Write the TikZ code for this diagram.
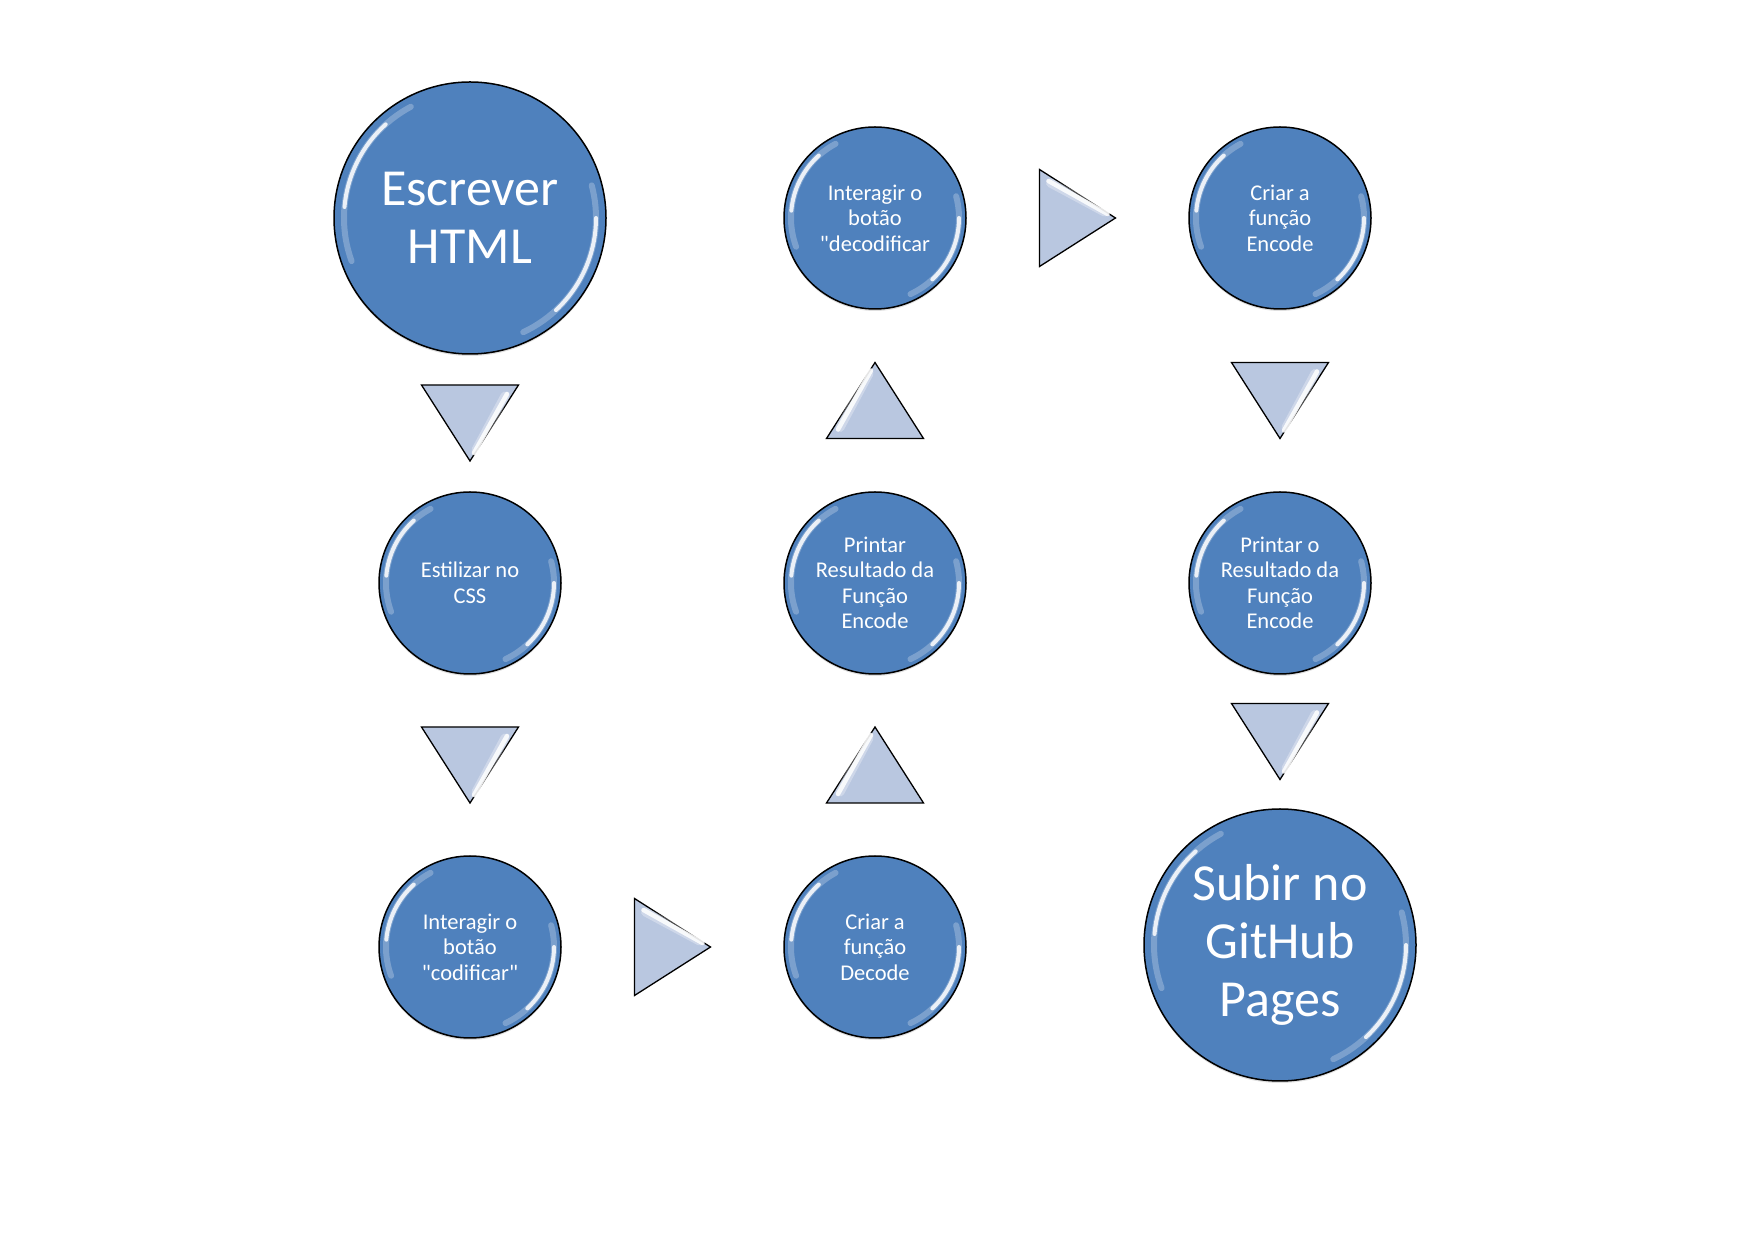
\documentclass[tikz,border=0pt]{standalone}
\usepackage{fontspec}
\setmainfont{Carlito}[Ligatures=TeXOff]
\usetikzlibrary{calc,shadows}

\definecolor{bubblefill}{RGB}{79,129,189}
\definecolor{trifill}{RGB}{185,199,224}

\tikzset{
  bubble/.style={circle, draw=black, line width=1.5pt, fill=bubblefill, text=white,
    align=center, inner sep=0pt, minimum size=182pt, font=\fontsize{22.5}{25.5}\selectfont,
    drop shadow={shadow xshift=0pt, shadow yshift=-2pt, opacity=0.25}},
  bigbubble/.style={bubble, minimum size=272pt, font=\fontsize{52}{58}\selectfont},
  glossline/.style={white, line width=4pt, line cap=round, opacity=0.85},
  glossfaint/.style={white, line width=6pt, line cap=round, opacity=0.25},
  tribody/.style={draw=black, line width=1.3pt, fill=trifill, line join=miter},
  trishine/.style={white, line width=4.5pt, line cap=round, opacity=0.85},
  trisoft/.style={white, line width=9pt, line cap=round, opacity=0.3},
}

% shine on a bubble: #1 node, #2 radius of the shine
\newcommand{\gloss}[2]{%
  \draw[glossfaint] ([shift={(200:#2)}]#1.center) arc[start angle=200, end angle=118, radius=#2];
  \draw[glossline] ([shift={(175:#2)}]#1.center) arc[start angle=175, end angle=132, radius=#2];
  \draw[glossfaint] ([shift={(15:#2)}]#1.center) arc[start angle=15, end angle=-65, radius=#2];
  \draw[glossline] ([shift={(0:#2)}]#1.center) arc[start angle=0, end angle=-47, radius=#2];
}

% triangle pointing right, turned by #2, centred on #1
\newcommand{\flowtri}[2]{%
  \begin{scope}[shift={(#1)}, rotate=#2]
    \draw[tribody] (-38,48.5) -- (38,0) -- (-38,-48.5) -- cycle;
    \draw[trisoft] (-27,35) -- (27,6);
    \draw[trishine] (-29,37) -- (30,4);
  \end{scope}}

\begin{document}
\begin{tikzpicture}[x=1pt, y=1pt]

  \useasboundingbox (0,0) rectangle (1754,1240);

  \node[bigbubble] (html) at (470,1022) {Escrever\\HTML};
  \node[bubble] (css) at (470,657) {Estilizar no\\CSS};
  \node[bubble] (cod) at (470,293) {Interagir o\\botão\\"codificar"};

  \node[bubble] (dec) at (875,293) {Criar a\\função\\Decode};
  \node[bubble] (prt1) at (875,657) {Printar\\Resultado da\\Função\\Encode};
  \node[bubble] (dbtn) at (875,1022) {Interagir o\\botão\\"decodificar};

  \node[bubble] (enc) at (1280,1022) {Criar a\\função\\Encode};
  \node[bubble] (prt2) at (1280,657) {Printar o\\Resultado da\\Função\\Encode};
  \node[bigbubble] (gh) at (1280,295) {Subir no\\GitHub\\Pages};

  \gloss{html}{126pt}
  \gloss{gh}{126pt}
  \foreach \n in {css, cod, dec, prt1, dbtn, enc, prt2}
    \gloss{\n}{84pt};

  \coordinate (t1) at ($(html.south)!0.5!(css.north)$);
  \coordinate (t2) at ($(css.south)!0.5!(cod.north)$);
  \coordinate (t3) at ($(cod.east)!0.5!(dec.west)$);
  \coordinate (t4) at ($(dec.north)!0.5!(prt1.south)$);
  \coordinate (t5) at ($(prt1.north)!0.5!(dbtn.south)$);
  \coordinate (t6) at ($(dbtn.east)!0.5!(enc.west)$);
  \coordinate (t7) at ($(enc.south)!0.5!(prt2.north)$);
  \coordinate (t8) at ($(prt2.south)!0.5!(gh.north)$);

  \flowtri{t1}{-90}
  \flowtri{t2}{-90}
  \flowtri{t3}{0}
  \flowtri{t4}{90}
  \flowtri{t5}{90}
  \flowtri{t6}{0}
  \flowtri{t7}{-90}
  \flowtri{t8}{-90}

\end{tikzpicture}
\end{document}
